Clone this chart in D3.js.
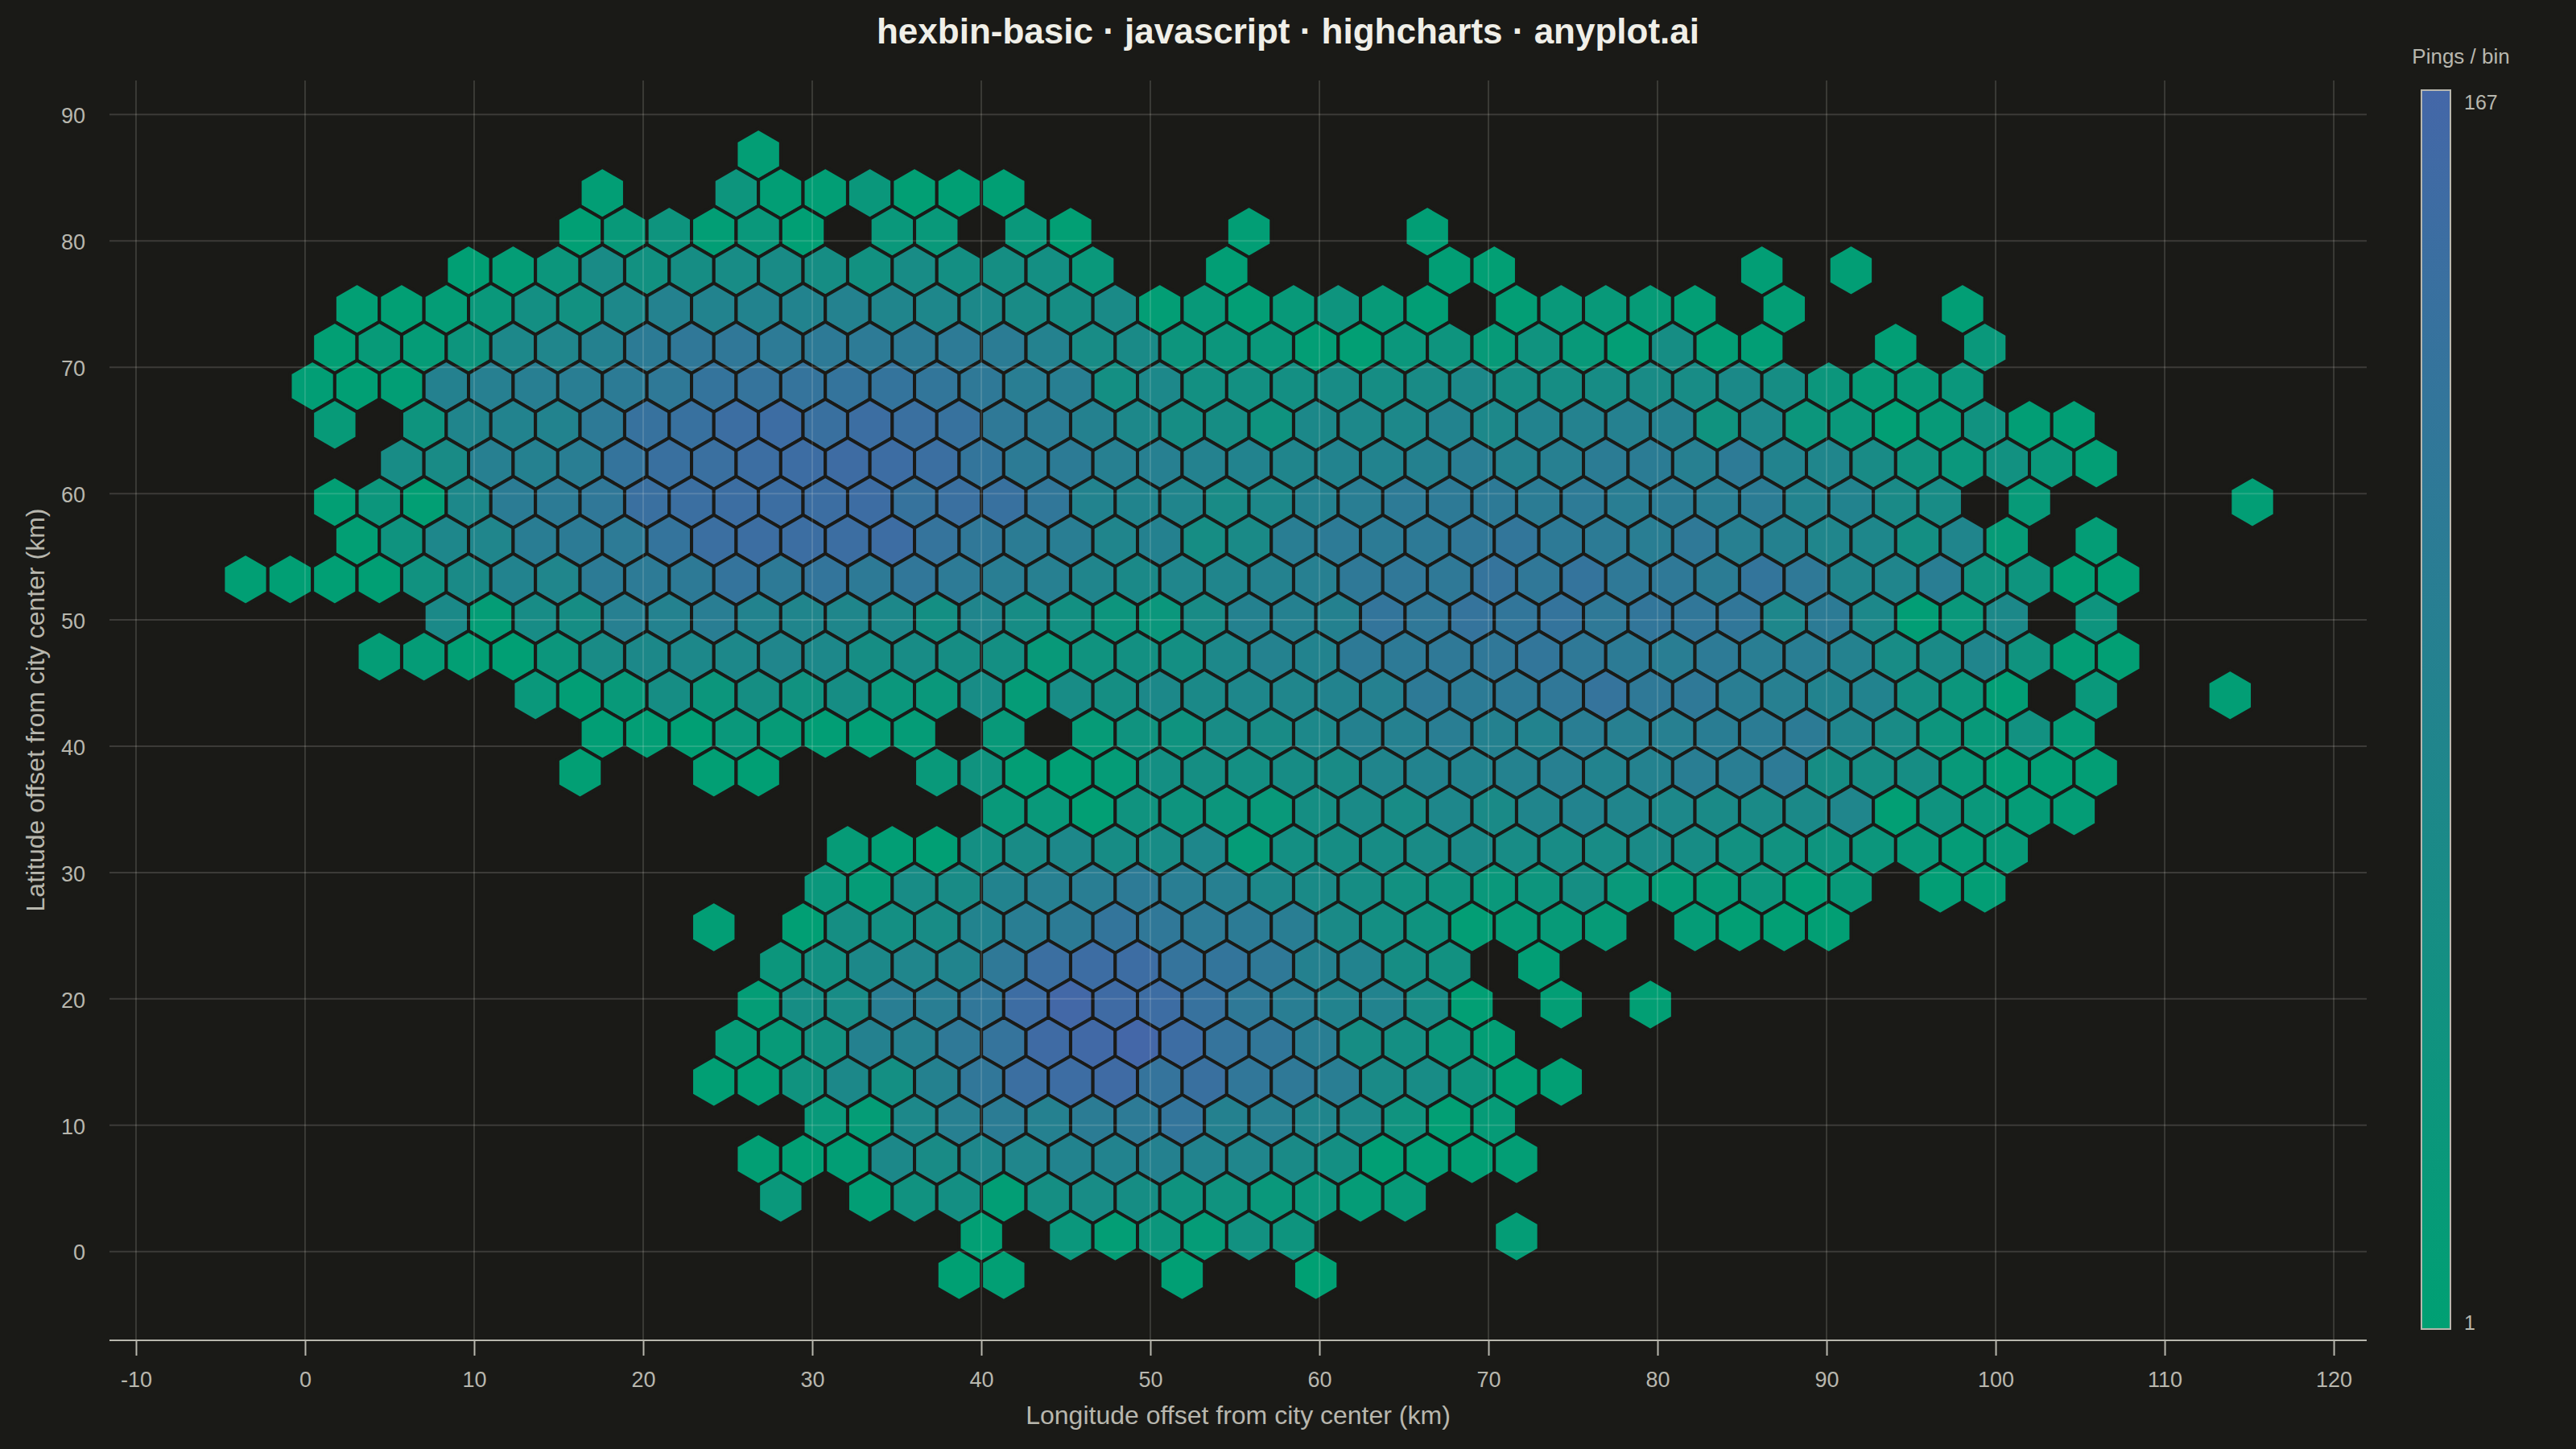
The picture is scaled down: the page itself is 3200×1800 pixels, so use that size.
<!DOCTYPE html>
<html>
<head>
<meta charset="utf-8">
<title>hexbin-basic</title>
<script src="https://cdn.jsdelivr.net/npm/d3@7"></script>
<style>
  html, body { margin: 0; padding: 0; background: #1a1a17; }
  svg { display: block; }
  text { font-family: "Liberation Sans", Arial, sans-serif; }
</style>
</head>
<body>
<div id="chart"></div>
<script>
// ---- Data ----
const titleText = 'hexbin-basic · javascript · highcharts · anyplot.ai';
const xLabel = 'Longitude offset from city center (km)';
const yLabel = 'Latitude offset from city center (km)';
const legendLabel = 'Pings / bin';

const xTicks = [-10, 0, 10, 20, 30, 40, 50, 60, 70, 80, 90, 100, 110, 120];
const yTicks = [0, 10, 20, 30, 40, 50, 60, 70, 80, 90];
const pingRange = [1, 167];

// hex lattice in km: odd rows start at originX, even rows half a step further
const originX = -3.52;
const stepX = 2.638;
const originY = 86.85;
const stepY = 3.059;

// first column of each row below, null = empty bin
const rowStarts = [11, 8, 7, 5, 2, 2, 1, 2, 3, 2, 2, 0, 4, 3, 6, 8, 7, 17, 13, 13, 10, 12, 11, 11, 10, 13, 11, 12, 16, 16];

const row00 = [8];
const row01 = [6, null, null, 32, 6, 7, 26, 5, 4, 4];
const row02 = [4, 20, 35, 6, 25, 3, null, 25, 22, null, 25, 5, null, null, null, 6, null, null, null, 6];
const row03 = [4, 10, 30, 62, 45, 55, 60, 62, 55, 45, 60, 50, 52, 50, 25, null, null, 6, null, null, null, null, 6, 5, null, null, null, null, null, 6, null, 7];
const row04 = [5, 5, 10, 25, 50, 45, 72, 88, 85, 85, 85, 88, 80, 75, 70, 62, 55, 65, 8, 20, 8, 20, 35, 18, 6, null, 8, 22, 20, 15, 8, null, 8, null, null, null, 6];
const row05 = [5, 18, 12, 32, 72, 78, 90, 108, 118, 118, 110, 112, 110, 108, 110, 105, 88, 60, 65, 32, 30, 25, 8, 5, 28, 35, 18, 40, 20, 8, 55, 8, 6, null, null, 6, null, 25];
const row06 = [6, 4, 6, 90, 95, 98, 100, 108, 115, 128, 130, 130, 128, 128, 122, 115, 100, 98, 50, 72, 48, 48, 50, 60, 55, 62, 70, 55, 55, 58, 62, 60, 68, 55, 30, 15, 18, 28];
const row07 = [18, null, 35, 80, 85, 85, 112, 135, 138, 148, 150, 140, 148, 142, 135, 115, 105, 90, 72, 55, 55, 38, 70, 72, 72, 85, 72, 85, 88, 92, 90, 40, 72, 30, 25, 5, 18, 42, 6, 6];
const row08 = [60, 62, 95, 92, 100, 128, 140, 142, 148, 150, 152, 150, 145, 125, 108, 108, 95, 95, 88, 85, 80, 85, 85, 90, 100, 88, 95, 105, 105, 95, 110, 85, 78, 62, 40, 28, 45, 25, 8];
const row09 = [5, 30, 5, 72, 105, 108, 118, 142, 145, 148, 148, 148, 150, 132, 142, 138, 120, 85, 82, 80, 62, 72, 90, 100, 110, 112, 112, 105, 110, 100, 105, 100, 105, 85, 85, 65, 60, null, 18, null, null, null, null, 6];
const row10 = [5, 38, 75, 78, 102, 108, 110, 128, 145, 148, 148, 148, 150, 130, 118, 105, 100, 80, 90, 55, 65, 100, 110, 108, 112, 118, 122, 112, 108, 100, 115, 95, 90, 78, 75, 50, 80, 15, null, 10];
const row11 = [4, 4, 4, 4, 42, 65, 85, 78, 108, 110, 112, 128, 112, 125, 112, 120, 110, 100, 95, 80, 68, 78, 80, 88, 95, 115, 118, 115, 130, 118, 128, 115, 115, 105, 125, 115, 80, 80, 100, 40, 35, 5, 4];
const row12 = [68, 10, 60, 55, 95, 88, 100, 85, 80, 76, 72, 50, 80, 58, 48, 32, 28, 62, 90, 92, 90, 126, 118, 130, 122, 128, 115, 122, 120, 120, 75, 108, 72, 6, 25, 70, null, 35];
const row13 = [10, 14, 5, 4, 30, 62, 70, 72, 72, 78, 72, 55, 60, 55, 50, 20, 40, 48, 50, 72, 88, 85, 112, 112, 115, 118, 122, 115, 108, 100, 110, 100, 100, 88, 60, 65, 80, 40, 8, 5];
const row14 = [25, 6, 20, 55, 30, 52, 42, 55, 28, 25, 60, 12, 60, 52, 70, 68, 75, 78, 85, 92, 112, 108, 112, 118, 130, 115, 115, 100, 95, 85, 85, 50, 30, 6, null, 25, null, null, 6];
const row15 = [6, 8, 4, 25, 15, 6, 8, 12, null, 20, null, 15, 40, 38, 60, 62, 72, 90, 92, 100, 90, 85, 100, 95, 95, 102, 105, 108, 80, 62, 32, 20, 45, 12];
const row16 = [5, null, null, 5, 4, null, null, null, 22, 40, 8, 4, 12, 50, 52, 50, 58, 62, 80, 85, 85, 88, 95, 85, 88, 100, 100, 110, 55, 55, 55, 20, 8, 6, 8];
const row17 = [22, 22, 5, 40, 35, 30, 22, 52, 65, 60, 75, 65, 80, 85, 80, 72, 65, 65, 68, 78, 5, 38, 25, 12, 10];
const row18 = [15, 6, 4, 50, 62, 72, 58, 60, 75, 12, 50, 55, 58, 62, 68, 60, 60, 60, 65, 58, 45, 42, 35, 30, 20, 12, 18];
const row19 = [28, 12, 60, 62, 85, 95, 100, 110, 100, 95, 72, 65, 55, 45, 38, 25, 32, 52, 22, 12, 15, 30, 6, 20, null, 8, 8];
const row20 = [6, null, 4, 52, 50, 60, 85, 100, 108, 125, 118, 110, 108, 100, 65, 50, 38, 8, 15, 18, 15, null, 12, 5, 5, 5];
const row21 = [30, 48, 70, 78, 82, 115, 145, 150, 150, 130, 125, 115, 90, 85, 55, 45, null, 6];
const row22 = [10, 55, 60, 100, 100, 120, 150, 165, 155, 150, 135, 115, 100, 85, 85, 60, 5, null, 8, null, 5];
const row23 = [15, 18, 45, 90, 92, 115, 130, 155, 160, 167, 150, 130, 120, 100, 55, 50, 28, 8];
const row24 = [4, 6, 40, 70, 50, 90, 120, 145, 150, 155, 130, 140, 120, 115, 100, 65, 60, 35, 5, 5];
const row25 = [22, 10, 72, 95, 105, 92, 105, 110, 125, 90, 95, 80, 70, 40, 5, 15];
const row26 = [5, 5, 6, 70, 62, 75, 78, 85, 85, 90, 85, 78, 65, 50, 4, 8, 5, 8];
const row27 = [25, null, 6, 42, 50, 6, 52, 60, 55, 38, 40, 25, 28, 12, 18];
const row28 = [5, null, 28, 8, 30, 12, 45, 35, null, null, null, null, 10];
const row29 = [1, 5, null, null, null, 3, null, null, 1];

const rows = [row00, row01, row02, row03, row04, row05, row06, row07, row08, row09,
  row10, row11, row12, row13, row14, row15, row16, row17, row18, row19,
  row20, row21, row22, row23, row24, row25, row26, row27, row28, row29];

// ---- Bins ----
const bins = [];
rows.forEach((row, r) => {
  row.forEach((value, i) => {
    if (value === null) return;
    const col = rowStarts[r] + i;
    bins.push({
      x: originX + (col + (r % 2 === 0 ? 0.5 : 0)) * stepX,
      y: originY - r * stepY,
      value,
    });
  });
});

// ---- Dimensions ----
const width = 3200;
const height = 1800;
const plot = { left: 136, right: 2940, top: 100, bottom: 1665 };

const x = d3.scaleLinear().domain([-11.57, 121.95]).range([plot.left, plot.right]);
const y = d3.scaleLinear().domain([-7.03, 92.7]).range([plot.bottom, plot.top]);

const bgColor = '#1a1a17';
const inkColor = '#f0efe8';
const mutedColor = '#b8b7ae';
const lowColor = '#00a073';
const highColor = '#4467a8';

const color = d3.scaleLinear().domain(pingRange).range([lowColor, highColor]).interpolate(d3.interpolateRgb);

const svg = d3.select('#chart').append('svg')
  .attr('width', width)
  .attr('height', height)
  .attr('viewBox', [0, 0, width, height])
  .style('background', bgColor);

// ---- Hexagons ----
function hexPath(d) {
  const ry = stepY * 2 / 3;
  const rx = stepX / 2;
  const pts = [
    [d.x, d.y + ry], [d.x + rx, d.y + ry / 2], [d.x + rx, d.y - ry / 2],
    [d.x, d.y - ry], [d.x - rx, d.y - ry / 2], [d.x - rx, d.y + ry / 2],
  ];
  return 'M' + pts.map(p => `${x(p[0]).toFixed(2)},${y(p[1]).toFixed(2)}`).join('L') + 'Z';
}

svg.append('g').attr('class', 'hexes')
  .selectAll('path')
  .data(bins)
  .join('path')
  .attr('d', hexPath)
  .attr('fill', d => color(d.value))
  .attr('stroke', bgColor)
  .attr('stroke-width', 4);

// ---- Grid (sits over the hexagons) ----
svg.append('g').attr('class', 'grid-x')
  .selectAll('line')
  .data(xTicks)
  .join('line')
  .attr('x1', d => x(d)).attr('x2', d => x(d))
  .attr('y1', plot.top).attr('y2', plot.bottom)
  .attr('stroke', 'rgba(240,239,232,0.2)')
  .attr('stroke-width', 1.5);

svg.append('g').attr('class', 'grid-y')
  .selectAll('line')
  .data(yTicks)
  .join('line')
  .attr('x1', plot.left).attr('x2', plot.right)
  .attr('y1', d => y(d)).attr('y2', d => y(d))
  .attr('stroke', 'rgba(240,239,232,0.16)')
  .attr('stroke-width', 2);

// ---- Axes ----
const xAxis = svg.append('g')
  .attr('transform', `translate(0,${plot.bottom})`)
  .call(d3.axisBottom(x).tickValues(xTicks).tickFormat(String).tickSize(19).tickPadding(20));

xAxis.select('.domain').attr('stroke', mutedColor).attr('stroke-width', 2).attr('d', `M${plot.left},0H${plot.right}`);
xAxis.selectAll('.tick line').attr('stroke', mutedColor).attr('stroke-width', 2);
xAxis.selectAll('.tick text')
  .attr('fill', mutedColor)
  .attr('font-size', 27)
  .attr('font-family', '"Liberation Sans", Arial, sans-serif');

const yAxis = svg.append('g')
  .attr('transform', `translate(${plot.left},0)`)
  .call(d3.axisLeft(y).tickValues(yTicks).tickFormat(String).tickSize(0).tickPadding(30));

yAxis.select('.domain').remove();
yAxis.selectAll('.tick text')
  .attr('dy', '0.38em')
  .attr('fill', mutedColor)
  .attr('font-size', 27)
  .attr('font-family', '"Liberation Sans", Arial, sans-serif');

// ---- Titles ----
svg.append('text')
  .attr('x', 1600).attr('y', 54)
  .attr('text-anchor', 'middle')
  .attr('fill', inkColor)
  .attr('font-size', 44)
  .attr('font-weight', 700)
  .text(titleText);

svg.append('text')
  .attr('x', 1538).attr('y', 1769)
  .attr('text-anchor', 'middle')
  .attr('fill', mutedColor)
  .attr('font-size', 32)
  .text(xLabel);

svg.append('text')
  .attr('transform', 'translate(55,882) rotate(-90)')
  .attr('text-anchor', 'middle')
  .attr('fill', mutedColor)
  .attr('font-size', 32)
  .text(yLabel);

// ---- Colour legend ----
const legend = { x: 3008, y: 112, w: 36, h: 1539 };

const grad = svg.append('defs').append('linearGradient')
  .attr('id', 'legend-gradient')
  .attr('x1', '0%').attr('x2', '0%')
  .attr('y1', '100%').attr('y2', '0%');

grad.selectAll('stop')
  .data(pingRange)
  .join('stop')
  .attr('offset', (d, i) => `${i * 100}%`)
  .attr('stop-color', d => color(d));

svg.append('rect')
  .attr('x', legend.x).attr('y', legend.y)
  .attr('width', legend.w).attr('height', legend.h)
  .attr('fill', 'url(#legend-gradient)')
  .attr('stroke', mutedColor)
  .attr('stroke-width', 2);

svg.append('text')
  .attr('x', 3057).attr('y', 79)
  .attr('text-anchor', 'middle')
  .attr('fill', mutedColor)
  .attr('font-size', 26)
  .text(legendLabel);

svg.append('text')
  .attr('x', 3061).attr('y', 136)
  .attr('fill', mutedColor)
  .attr('font-size', 25)
  .text(pingRange[1]);

svg.append('text')
  .attr('x', 3061).attr('y', 1652)
  .attr('fill', mutedColor)
  .attr('font-size', 25)
  .text(pingRange[0]);
</script>
</body>
</html>
